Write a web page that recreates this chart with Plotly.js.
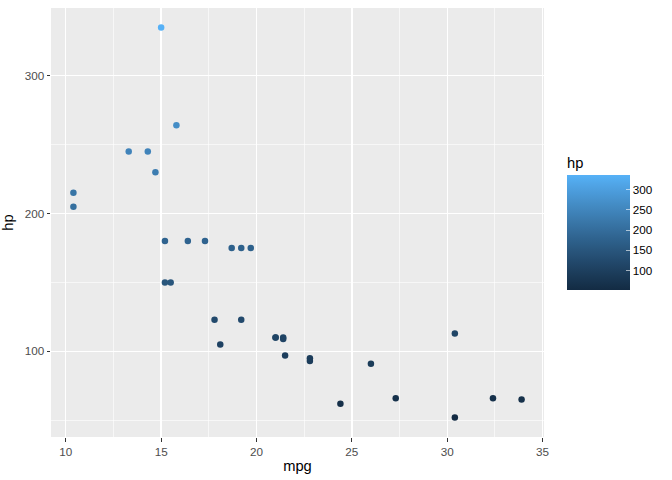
<!DOCTYPE html>
<html>
<head>
<meta charset="utf-8">
<script src="https://cdn.plot.ly/plotly-3.0.1.min.js"></script>
<style>html,body{margin:0;padding:0;background:#fff;}#chart{width:672px;height:480px;}</style>
</head>
<body>
<div id="chart"></div>
<script>
const cars = ["Mazda RX4","Mazda RX4 Wag","Datsun 710","Hornet 4 Drive","Hornet Sportabout","Valiant","Duster 360","Merc 240D","Merc 230","Merc 280","Merc 280C","Merc 450SE","Merc 450SL","Merc 450SLC","Cadillac Fleetwood","Lincoln Continental","Chrysler Imperial","Fiat 128","Honda Civic","Toyota Corolla","Toyota Corona","Dodge Challenger","AMC Javelin","Camaro Z28","Pontiac Firebird","Fiat X1-9","Porsche 914-2","Lotus Europa","Ford Pantera L","Ferrari Dino","Maserati Bora","Volvo 142E"];
const mpg = [21.0,21.0,22.8,21.4,18.7,18.1,14.3,24.4,22.8,19.2,17.8,16.4,17.3,15.2,10.4,10.4,14.7,32.4,30.4,33.9,21.5,15.5,15.2,13.3,19.2,27.3,26.0,30.4,15.8,19.7,15.0,21.4];
const hp = [110,110,93,110,175,105,245,62,95,123,123,180,180,180,205,215,230,66,52,65,97,150,150,245,175,66,91,113,264,175,335,109];
const xTicks = [10,15,20,25,30,35];
const yTicks = [100,200,300];
const cbTicks = [100,150,200,250,300];

// Lab-space gradient like ggplot2's scale_colour_gradient
function hex2rgb(h){return [1,3,5].map(i=>parseInt(h.substr(i,2),16)/255);}
function lin(c){return c<=0.04045?c/12.92:Math.pow((c+0.055)/1.055,2.4);}
function unlin(c){return c<=0.0031308?12.92*c:1.055*Math.pow(c,1/2.4)-0.055;}
const WX=0.95047,WY=1,WZ=1.08883;
function f(t){return t>0.008856?Math.cbrt(t):7.787*t+16/116;}
function finv(t){return t*t*t>0.008856?t*t*t:(t-16/116)/7.787;}
function toLab(h){const [r,g,b]=hex2rgb(h).map(lin);
  const X=0.4124*r+0.3576*g+0.1805*b, Y=0.2126*r+0.7152*g+0.0722*b, Z=0.0193*r+0.1192*g+0.9505*b;
  const fx=f(X/WX),fy=f(Y/WY),fz=f(Z/WZ); return [116*fy-16,500*(fx-fy),200*(fy-fz)];}
function fromLab(L,a,bb){const fy=(L+16)/116,fx=fy+a/500,fz=fy-bb/200;
  const X=WX*finv(fx),Y=WY*finv(fy),Z=WZ*finv(fz);
  let r=3.2406*X-1.5372*Y-0.4986*Z, g=-0.9689*X+1.8758*Y+0.0415*Z, b=0.0557*X-0.2040*Y+1.0570*Z;
  return 'rgb('+[r,g,b].map(c=>Math.round(Math.max(0,Math.min(1,unlin(c)))*255)).join(',')+')';}
const lo=toLab('#132B43'), hi=toLab('#56B1F7');
const scale=[]; for(let i=0;i<=20;i++){const t=i/20; scale.push([t,fromLab(lo[0]+(hi[0]-lo[0])*t,lo[1]+(hi[1]-lo[1])*t,lo[2]+(hi[2]-lo[2])*t)]);}

const xmin = Math.min(...mpg), xmax = Math.max(...mpg);
const ymin = Math.min(...hp), ymax = Math.max(...hp);
const xpad = (xmax - xmin) * 0.05, ypad = (ymax - ymin) * 0.05;

const FONT = 'Liberation Sans, Arial, sans-serif';

const trace = {
  type: 'scatter', mode: 'markers', x: mpg, y: hp, text: cars,
  marker: {
    size: 6.5, color: hp, cmin: ymin, cmax: ymax,
    colorscale: scale,
    line: {width: 0},
    showscale: true,
    colorbar: {
      xref: 'container', yref: 'container',
      x: 567/672, xanchor: 'left',
      y: 1 - 196/480, yanchor: 'top',
      lenmode: 'pixels', len: 115,
      thickness: 63, thicknessmode: 'pixels',
      xpad: 0, ypad: 0, outlinewidth: 0,
      tickmode: 'array', tickvals: cbTicks,
      ticks: 'inside', ticklen: 4, tickcolor: 'rgba(255,255,255,0.6)', tickwidth: 1,
      tickfont: {family: FONT, size: 11.7, color: '#000'}
    }
  },
  hoverinfo: 'text+x+y'
};

const axFont = {family: FONT, size: 11.7, color: '#4D4D4D'};
const titleFont = {family: FONT, size: 14.7, color: '#000'};

const layout = {
  width: 672, height: 480,
  margin: {l: 51, r: 128, t: 8, b: 43},
  paper_bgcolor: '#fff', plot_bgcolor: '#EBEBEB',
  showlegend: false,
  font: {family: FONT},
  annotations: [{
    text: 'hp', xref: 'paper', yref: 'paper', x: (567-51)/(672-51-128), y: (437-163)/(437-8),
    xanchor: 'left', yanchor: 'middle', showarrow: false, font: titleFont, xshift: -2
  }],
  xaxis: {
    range: [xmin - xpad, xmax + xpad],
    tickmode: 'array', tickvals: xTicks,
    ticks: 'outside', ticklen: 3.5, tickcolor: '#333', tickwidth: 1,
    tickfont: axFont, gridcolor: '#fff', gridwidth: 1.3,
    minor: {dtick: 2.5, tick0: 0, gridcolor: '#fff', gridwidth: 0.6, showgrid: true},
    zeroline: false, showline: false,
    title: {text: 'mpg', font: titleFont, standoff: 4}
  },
  yaxis: {
    range: [ymin - ypad, ymax + ypad],
    tickmode: 'array', tickvals: yTicks,
    ticks: 'outside', ticklen: 3.5, tickcolor: '#333', tickwidth: 1,
    tickfont: axFont, gridcolor: '#fff', gridwidth: 1.3,
    minor: {dtick: 50, tick0: 0, gridcolor: '#fff', gridwidth: 0.6, showgrid: true},
    zeroline: false, showline: false,
    title: {text: 'hp', font: titleFont, standoff: 10}
  }
};

Plotly.newPlot('chart', [trace], layout, {displayModeBar: false, staticPlot: true});
</script>
</body>
</html>
